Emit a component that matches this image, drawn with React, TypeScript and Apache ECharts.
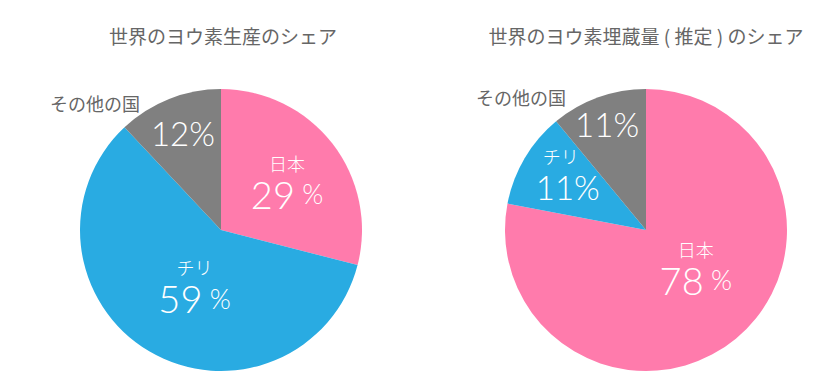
import React, { useEffect, useRef } from "react";
import * as echarts from "echarts";

const CATEGORIES = ["日本", "チリ", "その他の国"];
const PRODUCTION = [29, 59, 12];
const RESERVES = [78, 11, 11];
const TITLES = ["世界のヨウ素生産のシェア", "世界のヨウ素埋蔵量 ( 推定 ) のシェア"];
const COLORS = ["#FF7BAC", "#29ABE2", "#808080"];

// label styling per slice
const LEFT_LABEL_MODE = ["nameBig", "nameBig", "small"];
const RIGHT_LABEL_MODE = ["nameBig", "nameSmall", "small"];
const LEFT_OFFSETS = [[8, -3], [11, -7], [-11, -29]];
const RIGHT_OFFSETS = [[3, -19], [-15, -18], [-14, -37]];

const FONT = "'Noto Sans CJK JP', 'Noto Sans', sans-serif";
const NUM_FONT = "Lato, 'Noto Sans', sans-serif";

function makeFormatter(modes: string[]) {
  return (p: any) => {
    const mode = modes[p.dataIndex];
    if (mode === "nameBig") return `{n|${p.name}}\n{v|${p.value}}{p| %}`;
    if (mode === "nameSmall") return `{nl|${p.name}}\n{s|${p.value}%}`;
    return `{s|${p.value}%}`;
  };
}

const rich = {
  n: { fontSize: 18, color: "#fff", lineHeight: 24, fontFamily: FONT, fontWeight: 300 },
  nl: { fontSize: 18, color: "#fff", lineHeight: 24, fontFamily: FONT, fontWeight: 300, padding: [0, 14, 0, 0] },
  v: { fontSize: 38, color: "#fff", lineHeight: 38, fontFamily: NUM_FONT, fontWeight: 300 },
  p: { fontSize: 27, color: "#fff", lineHeight: 38, fontFamily: NUM_FONT, fontWeight: 300 },
  s: { fontSize: 33, color: "#fff", lineHeight: 38, fontFamily: NUM_FONT, fontWeight: 300 },
};

function buildSeries(values: number[], center: number[], modes: string[], offsets: number[][]) {
  return {
    type: "pie",
    center,
    radius: 141,
    startAngle: 90,
    clockwise: true,
    silent: true,
    label: {
      show: true,
      position: "inside",
      formatter: makeFormatter(modes),
      rich,
      align: "center",
    },
    labelLine: { show: false },
    labelLayout: (params: any) => ({
      dx: offsets[params.dataIndex][0],
      dy: offsets[params.dataIndex][1],
    }),
    data: CATEGORIES.map((name, i) => ({
      name,
      value: values[i],
      itemStyle: { color: COLORS[i] },
    })),
  };
}

export default function App() {
  const ref = useRef<HTMLDivElement>(null);
  useEffect(() => {
    document.body.style.margin = "0";
    const chart = echarts.init(ref.current!, undefined, { renderer: "svg" });
    const titleStyle = (text: string) => ({
      text,
      fill: "#666",
      font: `19px ${FONT}`,
      align: "center",
      verticalAlign: "middle",
    });
    const otherStyle = () => ({
      text: CATEGORIES[2],
      fill: "#666",
      font: `18px ${FONT}`,
      align: "center",
      verticalAlign: "middle",
    });
    chart.setOption({
      animation: false,
      backgroundColor: "#fff",
      graphic: [
        { type: "text", x: 223, y: 35, style: titleStyle(TITLES[0]) },
        { type: "text", x: 646, y: 35, style: titleStyle(TITLES[1]) },
        { type: "text", x: 95, y: 103, style: otherStyle() },
        { type: "text", x: 521, y: 97, style: otherStyle() },
      ],
      series: [
        buildSeries(PRODUCTION, [221, 230], LEFT_LABEL_MODE, LEFT_OFFSETS),
        buildSeries(RESERVES, [646, 230], RIGHT_LABEL_MODE, RIGHT_OFFSETS),
      ],
    });
    return () => chart.dispose();
  }, []);
  return <div ref={ref} style={{ width: 828, height: 378 }} />;
}
